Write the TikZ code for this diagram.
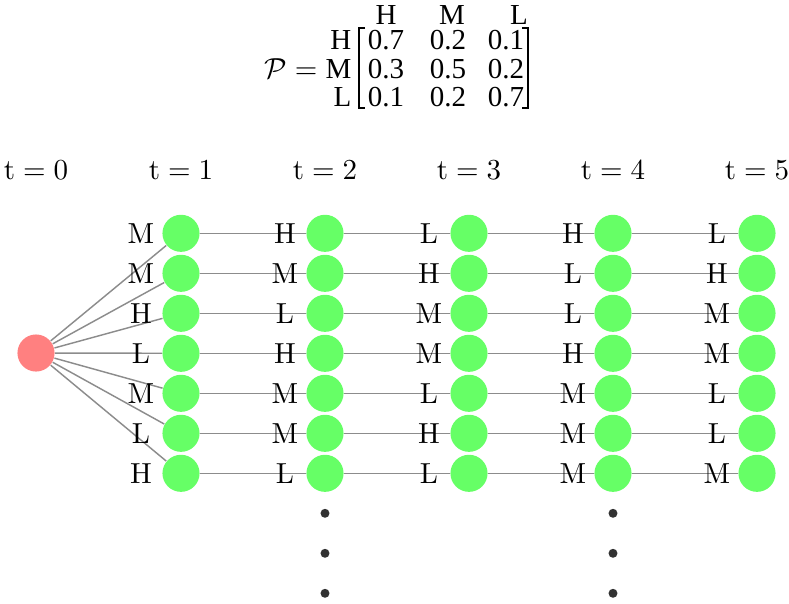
\documentclass[tikz,border=0pt]{standalone}
\usepackage{fontspec}
\newfontfamily\matfont{Liberation Serif}
\usetikzlibrary{calc}

\definecolor{stategreen}{RGB}{102,255,102}
\definecolor{startred}{RGB}{255,128,128}
\definecolor{dotgray}{RGB}{50,50,50}
\definecolor{linkgray}{RGB}{140,140,140}

\begin{document}
\begin{tikzpicture}[x=0.345pt,y=-0.345pt]
	\tikzstyle{state}=[circle,fill=stategreen,minimum size=12.8pt,inner sep=0pt]
	\tikzstyle{start}=[circle,fill=startred,minimum size=12.8pt,inner sep=0pt]
	\tikzstyle{link}=[linkgray,line width=0.5pt]
	\tikzstyle{moredots}=[circle,fill=dotgray,minimum size=3.1pt,inner sep=0pt]
	\tikzstyle{mat}=[font=\matfont\fontsize{10}{12}\selectfont,inner sep=0pt]
	\useasboundingbox (0,0) rectangle (789,603);

	% transition matrix
	\node[mat,anchor=east] (P) at (318,69) {$\mathcal{P}=$};
	\foreach \s/\x in {H/386,M/452,L/519}
		\node[mat] (col\s) at (\x,15) {\s};
	\foreach \s/\y in {H/40,M/69,L/97}
		\node[mat,anchor=east] (row\s) at (352,\y) {\s};
	\foreach \vals/\y [count=\i] in {{0.7/386,0.2/448,0.1/506}/40,{0.3/386,0.5/448,0.2/506}/69,
		{0.1/386,0.2/448,0.7/506}/97}
		\foreach \v/\x [count=\j] in \vals
			\node[mat] (p\i\j) at (\x,\y) {\v};
	\draw[line width=0.45pt] (365,28) -- (359,28) -- (359,108) -- (365,108);
	\draw[line width=0.45pt] (522,28) -- (528,28) -- (528,108) -- (522,108);

	% start state and time axis
	\node[start] (s) at (36,353) {};
	\foreach \t/\x in {0/36,1/181,2/325,3/469,4/613,5/757}
		\node (t\t) at (\x,170) {$\mathrm{t}=\t$};

	% sampled states
	\foreach \c in {1,...,5}
		\foreach \r in {1,...,7}
			\node[state] (n\c\r) at ({181+144*(\c-1)},{193.3+40*\r}) {};

	\foreach \r in {1,...,7}
		\draw[link] (s) -- (n1\r);
	\foreach \c/\d in {1/2,2/3,3/4,4/5}
		\foreach \r in {1,...,7}
			\draw[link] (n\c\r) -- (n\d\r);

	\foreach \c/\labs in {1/{M,M,H,L,M,L,H},2/{H,M,L,H,M,M,L},3/{L,H,M,M,L,H,L},
		4/{H,L,L,H,M,M,M},5/{L,H,M,M,L,L,M}}
		\foreach \l [count=\r] in \labs
			\node (l\c\r) at ($(n\c\r)+(-40,0)$) {\l};

	\foreach \c in {2,4}
		\foreach \k in {1,2,3}
			\node[moredots] (d\c\k) at ($(n\c7)+(0,40*\k)$) {};
\end{tikzpicture}
\end{document}
